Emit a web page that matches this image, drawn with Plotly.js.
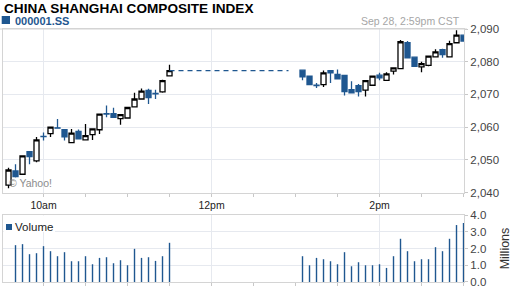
<!DOCTYPE html>
<html><head><meta charset="utf-8">
<script src="https://cdn.plot.ly/plotly-3.0.1.min.js"></script>
<style>html,body{margin:0;padding:0;background:#fff}#chart{width:512px;height:288px}</style>
</head><body><div id="chart"></div>
<script>
const day = '2012-09-28 ';
const times = ['09:35','09:40','09:45','09:50','09:55','10:00','10:05','10:10','10:15','10:20','10:25','10:30',
  '10:35','10:40','10:45','10:50','10:55','11:00','11:05','11:10','11:15','11:20','11:25','11:30',
  '13:05','13:10','13:15','13:20','13:25','13:30','13:35','13:40','13:45','13:50','13:55','14:00',
  '14:05','14:10','14:15','14:20','14:25','14:30','14:35','14:40','14:45','14:50','14:55','15:00'];
const openV = [2042.3,2046.6,2045.6,2052.5,2049.7,2057.2,2058.0,2059.8,2059.2,2055.3,2058.7,2056.1,
  2057.7,2059.2,2064.1,2064.1,2062.6,2062.8,2066.2,2068.6,2071.2,2070.3,2070.8,2075.7,
  2077.4,2075.6,2072.8,2073.0,2077.3,2076.1,2075.8,2071.5,2072.7,2071.3,2072.8,2075.9,
  2074.3,2077.1,2077.9,2085.8,2081.4,2078.4,2078.9,2081.5,2083.7,2081.5,2085.8,2088.1];
const highV = [2047.6,2048.7,2051.3,2052.6,2057.0,2058.4,2060.2,2062.5,2059.4,2059.4,2059.3,2061.0,
  2059.6,2064.1,2066.6,2065.9,2063.9,2066.1,2070.5,2071.8,2071.7,2071.4,2074.5,2079.1,
  2077.5,2075.8,2073.5,2077.3,2077.4,2077.6,2075.9,2074.0,2073.2,2074.3,2075.7,2076.6,
  2076.8,2078.2,2086.6,2086.3,2081.6,2080.0,2081.8,2083.8,2084.0,2086.4,2089.6,2088.2];
const lowV = [2041.3,2044.6,2045.4,2048.7,2049.3,2055.9,2057.0,2059.6,2055.9,2055.2,2056.3,2056.0,
  2056.1,2057.9,2063.0,2062.8,2060.7,2062.7,2066.1,2068.5,2067.1,2068.6,2070.5,2075.6,
  2074.3,2072.9,2072.0,2072.3,2073.5,2074.7,2069.7,2070.4,2069.4,2069.4,2072.7,2074.3,
  2074.2,2076.1,2077.8,2081.1,2078.5,2076.8,2078.6,2081.4,2081.2,2081.4,2085.7,2086.2];
const closeV = [2046.9,2044.9,2051.2,2051.0,2056.1,2057.1,2060.0,2059.7,2057.0,2058.2,2056.4,2057.4,
  2059.5,2064.0,2064.0,2063.0,2063.8,2066.0,2068.6,2071.0,2069.0,2070.2,2074.2,2077.3,
  2075.4,2073.0,2072.7,2076.6,2076.6,2074.8,2070.9,2070.5,2070.9,2074.2,2075.6,2075.1,
  2076.3,2078.1,2086.1,2081.2,2078.6,2079.4,2081.7,2083.0,2082.2,2085.5,2088.1,2086.3];
const volumeM = [null,2.20,2.26,1.66,1.72,2.14,1.84,1.54,1.78,1.24,1.24,1.54,
  1.06,1.44,1.48,1.12,1.30,1.00,1.98,1.44,1.48,1.26,1.54,2.34,
  1.54,1.00,1.44,1.36,1.24,1.06,1.78,0.94,1.18,1.00,1.00,1.06,
  0.84,1.54,2.58,1.84,1.24,1.36,1.36,2.08,1.84,2.58,3.40,3.52];
const lunchBreak = ['11:30','12:55'];
const tickTimes = ['10:00','12:00','14:00'];
const tickLabels = ['10am','12pm','2pm'];

const BLUE = '#1f5790';
const FONT = 'Liberation Sans, Arial, Helvetica, sans-serif';
const GRID = '#e6e9ef';
const FRAME = '#d4d4d4';
const xs = times.map(t => day + t);
const lastMorningClose = closeV[times.indexOf('11:30')];

const traces = [
  {type:'scatter', mode:'lines', x: lunchBreak.map(t => day + t), y: lunchBreak.map(() => lastMorningClose),
   xaxis:'x', yaxis:'y', line:{color:BLUE, width:1.2, dash:'5px,4px'}, hoverinfo:'skip'},
  {type:'candlestick', x: xs, open: openV, high: highV, low: lowV, close: closeV, xaxis:'x', yaxis:'y',
   increasing:{line:{color:'#000', width:1.3}, fillcolor:'#fff'},
   decreasing:{line:{color:BLUE, width:1.3}, fillcolor:BLUE},
   whiskerwidth:0, hoverinfo:'skip'},
  {type:'bar', x: xs, y: volumeM, xaxis:'x2', yaxis:'y2', width: 60000,
   marker:{color:BLUE, line:{width:0}}, hoverinfo:'skip'}
];

const xRange = [day + '09:31:04', day + '15:00:21'];
const xCommon = {
  type:'date', range: xRange, tickmode:'array', tickvals: tickTimes.map(t => day + t), ticktext: tickLabels,
  ticks:'outside', ticklen:3, tickcolor:'#c8c8c8', showgrid:true, gridcolor:GRID, gridwidth:1,
  showline:true, mirror:true, linecolor:FRAME, linewidth:1, zeroline:false, fixedrange:true,
  minor:{ticks:'outside', ticklen:3, tickcolor:'#c8c8c8', dtick:1800000, tick0: day + '09:30', showgrid:false},
  rangeslider:{visible:false}
};

const layout = {
  width:512, height:288,
  margin:{l:3, r:48, t:29, b:6, pad:0},
  paper_bgcolor:'#fff', plot_bgcolor:'#fff', showlegend:false,
  font:{family:FONT, size:11, color:'#333'},
  boxgap:0.2, boxgroupgap:0.1,
  xaxis: Object.assign({}, xCommon, {anchor:'y', tickfont:{family:FONT, size:10.5, color:'#222'}}),
  xaxis2: Object.assign({}, xCommon, {anchor:'y2', showticklabels:false}),
  yaxis:{domain:[0.3534,1], range:[2040,2090], side:'right', anchor:'x', tick0:2040, dtick:10, tickformat:',d',
    ticks:'outside', ticklen:3, tickcolor:'#c8c8c8', showgrid:true, gridcolor:GRID, showline:true, mirror:true,
    linecolor:FRAME, zeroline:false, fixedrange:true, tickfont:{family:FONT, size:11.5, color:'#444'}},
  yaxis2:{domain:[0,0.2648], range:[0,4], side:'right', anchor:'x2', tick0:0, dtick:1, tickformat:'.1f',
    ticks:'outside', ticklen:3, tickcolor:'#c8c8c8', showgrid:true, gridcolor:GRID, showline:true, mirror:true,
    linecolor:FRAME, zeroline:false, fixedrange:true, ticklabeloverflow:'allow',
    tickfont:{family:FONT, size:11.5, color:'#444'},
    title:{text:'Millions', font:{family:FONT, size:12.5, color:'#333'}, standoff:15}},
  shapes:[
    {type:'line', xref:'paper', yref:'paper', x0:-3/461, x1:1+3/461, y0:1, y1:1, line:{color:FRAME, width:1}},
    {type:'rect', xref:'paper', yref:'paper', xsizemode:'pixel', ysizemode:'pixel', xanchor:0, yanchor:1,
     x0:-1.3, x1:7, y0:5, y1:13, fillcolor:BLUE, line:{width:0}},
    {type:'rect', xref:'paper', yref:'y2 domain', xsizemode:'pixel', ysizemode:'pixel', xanchor:0, yanchor:1,
     x0:0.6, x1:52, y0:-0.6, y1:-17, fillcolor:'#fff', line:{width:0}, layer:'above'},
    {type:'rect', xref:'paper', yref:'y2 domain', xsizemode:'pixel', ysizemode:'pixel', xanchor:0, yanchor:1,
     x0:3, x1:9, y0:-9, y1:-15, fillcolor:BLUE, line:{width:0}, layer:'above'}
  ],
  annotations:[
    {xref:'paper', yref:'paper', x:0, y:1, xanchor:'left', yanchor:'middle', xshift:-1.5, yshift:21,
     text:'<b>CHINA SHANGHAI COMPOSITE INDEX</b>', showarrow:false, font:{family:FONT, size:13.6, color:'#000'}},
    {xref:'paper', yref:'paper', x:0, y:1, xanchor:'left', yanchor:'middle', xshift:9.5, yshift:8.5,
     text:'<b>000001.SS</b>', showarrow:false, font:{family:FONT, size:11, color:BLUE}},
    {xref:'paper', yref:'paper', x:1, y:1, xanchor:'right', yanchor:'middle', xshift:-2, yshift:8.5,
     text:'Sep 28, 2:59pm CST', showarrow:false, font:{family:FONT, size:10.5, color:'#a6a6a6'}},
    {xref:'paper', yref:'y domain', x:0, y:0, xanchor:'left', yanchor:'middle', xshift:4, yshift:9.3,
     text:'© Yahoo!', showarrow:false, font:{family:FONT, size:10.5, color:'#8c8c8c'}},
    {xref:'paper', yref:'y2 domain', x:0, y:1, xanchor:'left', yanchor:'middle', xshift:9.5, yshift:-12.3,
     text:'Volume', showarrow:false, font:{family:FONT, size:11.5, color:'#222'}}
  ]
};

Plotly.newPlot('chart', traces, layout, {staticPlot:true, displayModeBar:false});
</script>
</body></html>
